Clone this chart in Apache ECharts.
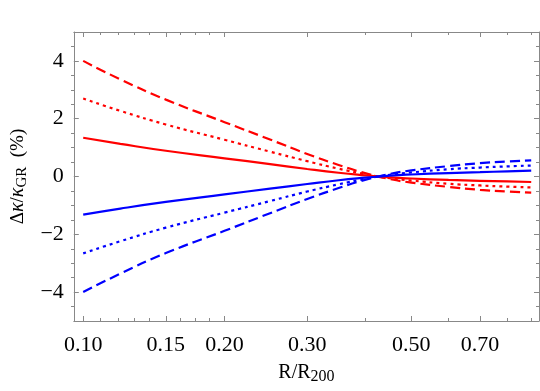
<!DOCTYPE html>
<html>
<head>
<meta charset="utf-8">
<script src="https://cdn.jsdelivr.net/npm/echarts@6/dist/echarts.min.js"></script>
<style>
  html, body { margin: 0; padding: 0; background: #fff; }
  #main { width: 540px; height: 391px; }
</style>
</head>
<body>
<div id="main"></div>
<script>
// R/R200 sample points
const radius = [0.10, 0.12, 0.15, 0.20, 0.25, 0.30, 0.35, 0.40, 0.45, 0.50, 0.60, 0.70, 0.80, 0.90];

// Δκ/κGR (%)
const redDashed  = [4.00, 3.36, 2.66, 1.88, 1.28, 0.78, 0.40, 0.11, -0.09, -0.21, -0.36, -0.46, -0.52, -0.56];
const redDotted  = [2.70, 2.27, 1.80, 1.27, 0.86, 0.53, 0.27, 0.08, -0.06, -0.14, -0.25, -0.31, -0.35, -0.38];
const redSolid   = [1.34, 1.13, 0.89, 0.63, 0.43, 0.26, 0.13, 0.04, -0.03, -0.07, -0.12, -0.15, -0.17, -0.19];
const blueDashed = [-4.00, -3.36, -2.65, -1.88, -1.27, -0.78, -0.40, -0.11, 0.09, 0.21, 0.36, 0.46, 0.52, 0.56];
const blueDotted = [-2.66, -2.24, -1.77, -1.25, -0.85, -0.52, -0.27, -0.08, 0.06, 0.14, 0.25, 0.31, 0.35, 0.38];
const blueSolid  = [-1.32, -1.11, -0.88, -0.62, -0.42, -0.26, -0.13, -0.04, 0.03, 0.07, 0.12, 0.15, 0.18, 0.20];

// ticks
const xMajor = [0.10, 0.15, 0.20, 0.30, 0.50, 0.70];
const xMinor = [0.11, 0.12, 0.13, 0.14, 0.1625, 0.175, 0.1875, 0.40, 0.60, 0.80, 0.90];
const yMajor = [-4, -2, 0, 2, 4];
const yMinor = [-4.5, -3.5, -3, -2.5, -1.5, -1, -0.5, 0.5, 1, 1.5, 2.5, 3, 3.5, 4.5];

const frame = '#888';
const font = 'Liberation Serif';
const box = { left: 71, right: 1, top: 32, bottom: 70 };

const pairs = ys => radius.map((r, i) => [r, ys[i]]);

// grid 0 holds the frame, major ticks and labels; grid 1 (same box) only the short minor ticks
const xAxisOf = (grid, pos, ticks, len, showLine, labels) => ({
  type: 'log',
  gridIndex: grid,
  min: 0.0955,
  max: 0.935,
  position: pos,
  axisLine: { show: showLine, onZero: false, lineStyle: { color: frame, width: 1 } },
  axisTick: { show: true, inside: true, length: len, customValues: ticks, lineStyle: { color: frame } },
  axisLabel: labels ? {
    show: true, customValues: ticks, margin: 13,
    fontFamily: font, fontSize: 22, color: '#000',
    formatter: v => Number(v).toFixed(2)
  } : { show: false },
  splitLine: { show: false },
  minorTick: { show: false }
});

const yAxisOf = (grid, pos, ticks, len, showLine, labels) => ({
  type: 'value',
  gridIndex: grid,
  min: -5,
  max: 5,
  position: pos,
  axisLine: { show: showLine, onZero: false, lineStyle: { color: frame, width: 1 } },
  axisTick: { show: true, inside: true, length: len, customValues: ticks, lineStyle: { color: frame } },
  axisLabel: labels ? {
    show: true, customValues: ticks, margin: 10,
    fontFamily: font, fontSize: 22, color: '#000',
    formatter: v => (v < 0 ? '\u2212' + Math.abs(v) : String(v))
  } : { show: false },
  splitLine: { show: false }
});

const xAxes = [
  xAxisOf(0, 'bottom', xMajor, 5, true, true),
  xAxisOf(0, 'top', xMajor, 5, true, false),
  xAxisOf(1, 'bottom', xMinor, 3, false, false),
  xAxisOf(1, 'top', xMinor, 3, false, false)
];
xAxes[0].name = '{a|R/R}{s|200}';
xAxes[0].nameLocation = 'middle';
xAxes[0].nameGap = 39;
xAxes[0].nameTextStyle = {
  rich: {
    a: { fontFamily: font, fontSize: 20, color: '#000' },
    s: { fontFamily: font, fontSize: 16, color: '#000', verticalAlign: 'bottom', padding: [9, 0, 0, 0] }
  }
};

const yAxes = [
  yAxisOf(0, 'left', yMajor, 5, true, true),
  yAxisOf(0, 'right', yMajor, 5, true, false),
  yAxisOf(1, 'left', yMinor, 3, false, false),
  yAxisOf(1, 'right', yMinor, 3, false, false)
];
yAxes[0].name = '{a|\u0394}{k|\u03ba}{a|/}{k|\u03ba}{s|GR}{a|  (%)}';
yAxes[0].nameLocation = 'middle';
yAxes[0].nameGap = 43;
yAxes[0].nameRotate = 90;
yAxes[0].nameTextStyle = {
  rich: {
    a: { fontFamily: font, fontSize: 19, color: '#000' },
    k: { fontFamily: font, fontSize: 20, fontStyle: 'italic', color: '#000' },
    s: { fontFamily: font, fontSize: 15, color: '#000', padding: [8, 0, 0, 0] }
  }
};

const line = (ys, color, type) => ({
  type: 'line',
  data: pairs(ys),
  xAxisIndex: 0,
  yAxisIndex: 0,
  showSymbol: false,
  smooth: true,
  lineStyle: { color: color, width: 2.2, type: type },
  animation: false
});

const chart = echarts.init(document.getElementById('main'));
chart.setOption({
  animation: false,
  grid: [Object.assign({}, box), Object.assign({}, box)],
  xAxis: xAxes,
  yAxis: yAxes,
  series: [
    line(redDashed, '#ff0000', [10, 5]),
    line(redDotted, '#ff0000', [3, 4]),
    line(redSolid, '#ff0000', 'solid'),
    line(blueDashed, '#0000ff', [10, 5]),
    line(blueDotted, '#0000ff', [3, 4]),
    line(blueSolid, '#0000ff', 'solid')
  ]
});
</script>
</body>
</html>
